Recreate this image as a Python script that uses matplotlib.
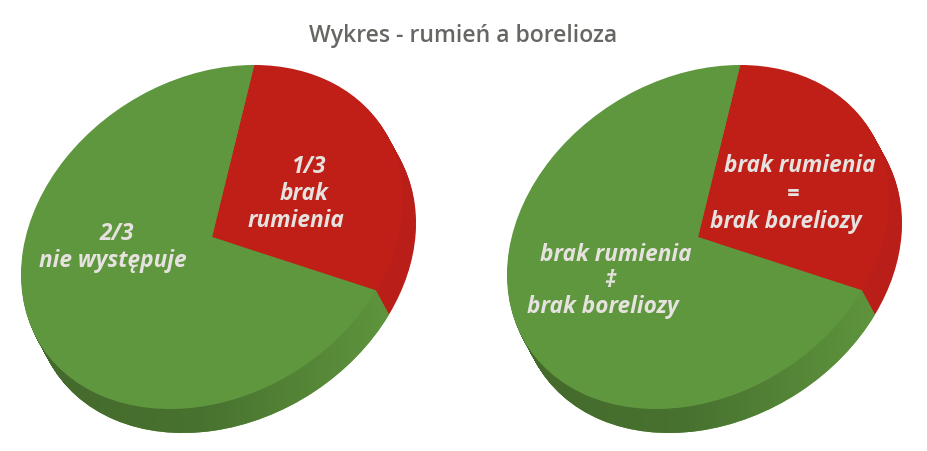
import numpy as np
import matplotlib
matplotlib.use("Agg")
import matplotlib.pyplot as plt
from matplotlib.colors import LinearSegmentedColormap
from matplotlib.path import Path
from matplotlib.transforms import Affine2D

# share of the pie
slices = ["brak rumienia", "reszta"]
values = [30, 70]

title = "Wykres - rumień a borelioza"
left_labels = ["1/3", "brak", "rumienia", "2/3", "nie występuje"]
right_labels = ["brak rumienia", "=", "brak boreliozy", "brak rumienia", "‡", "brak boreliozy"]

RED = "#c01f18"
RED_SIDE = "#b91f18"
GREEN = "#5f973e"
TEXT = "#e6e2df"

fig = plt.figure(figsize=(9.27, 4.52), dpi=100)
ax = fig.add_axes([0, 0, 1, 1])


def pie_transform(cx, cy):
    # flat pie tilted into an ellipse, everything in pixels
    return (Affine2D().scale(202.6, 158.2).rotate_deg(32.25).scale(1, -1)
            .translate(cx, cy))


def draw_pie(cx, cy):
    side_paths = []
    for step in np.arange(24, 0, -1.0):
        t = pie_transform(cx + step * 13 / 24, cy + step)
        wedges, _ = ax.pie(values, colors=[RED_SIDE, GREEN], startangle=51, counterclock=False)
        for w in wedges:
            w.set_transform(t + ax.transData)
            w.set_linewidth(0)
        side_paths.append(wedges[1].get_path().transformed(t))

    # side of the green slice gets lighter to the right
    cmap = LinearSegmentedColormap.from_list("side", ["#44692b", "#487230", "#5f953d"])
    im = ax.imshow(np.linspace(0, 1, 256)[None, :], cmap=cmap, aspect="auto",
                   extent=(cx - 195, cx + 178, cy + 200, cy), zorder=2)
    im.set_clip_path(Path.make_compound_path(*side_paths), ax.transData)

    t = pie_transform(cx, cy)
    wedges, _ = ax.pie(values, colors=[RED, GREEN], startangle=51, counterclock=False)
    for w in wedges:
        w.set_transform(t + ax.transData)
        w.set_linewidth(0)
        w.set_zorder(3)


draw_pie(212, 238)
draw_pie(698, 238)

ax.set_aspect("auto")
ax.set_xlim(0, 927)
ax.set_ylim(452, 0)
ax.axis("off")

font = dict(family="Open Sans", fontsize=16.3, fontweight="bold", fontstyle="italic",
            color=TEXT, ha="center", va="center", zorder=5)

for label, x, y in zip(left_labels, [309, 304, 296, 117, 113], [167, 194, 221, 234, 261]):
    ax.text(x, y, label, **font)
for label, x, y in zip(right_labels, [800, 793, 786, 616, 610, 603], [166, 195, 222, 255, 281, 307]):
    ax.text(x, y, label, **font)

ax.text(463.5, 36, title, family="Open Sans", fontsize=16.6, fontweight="semibold",
        color="#666662", ha="center", va="center")

fig.savefig("out.png", dpi=100)
